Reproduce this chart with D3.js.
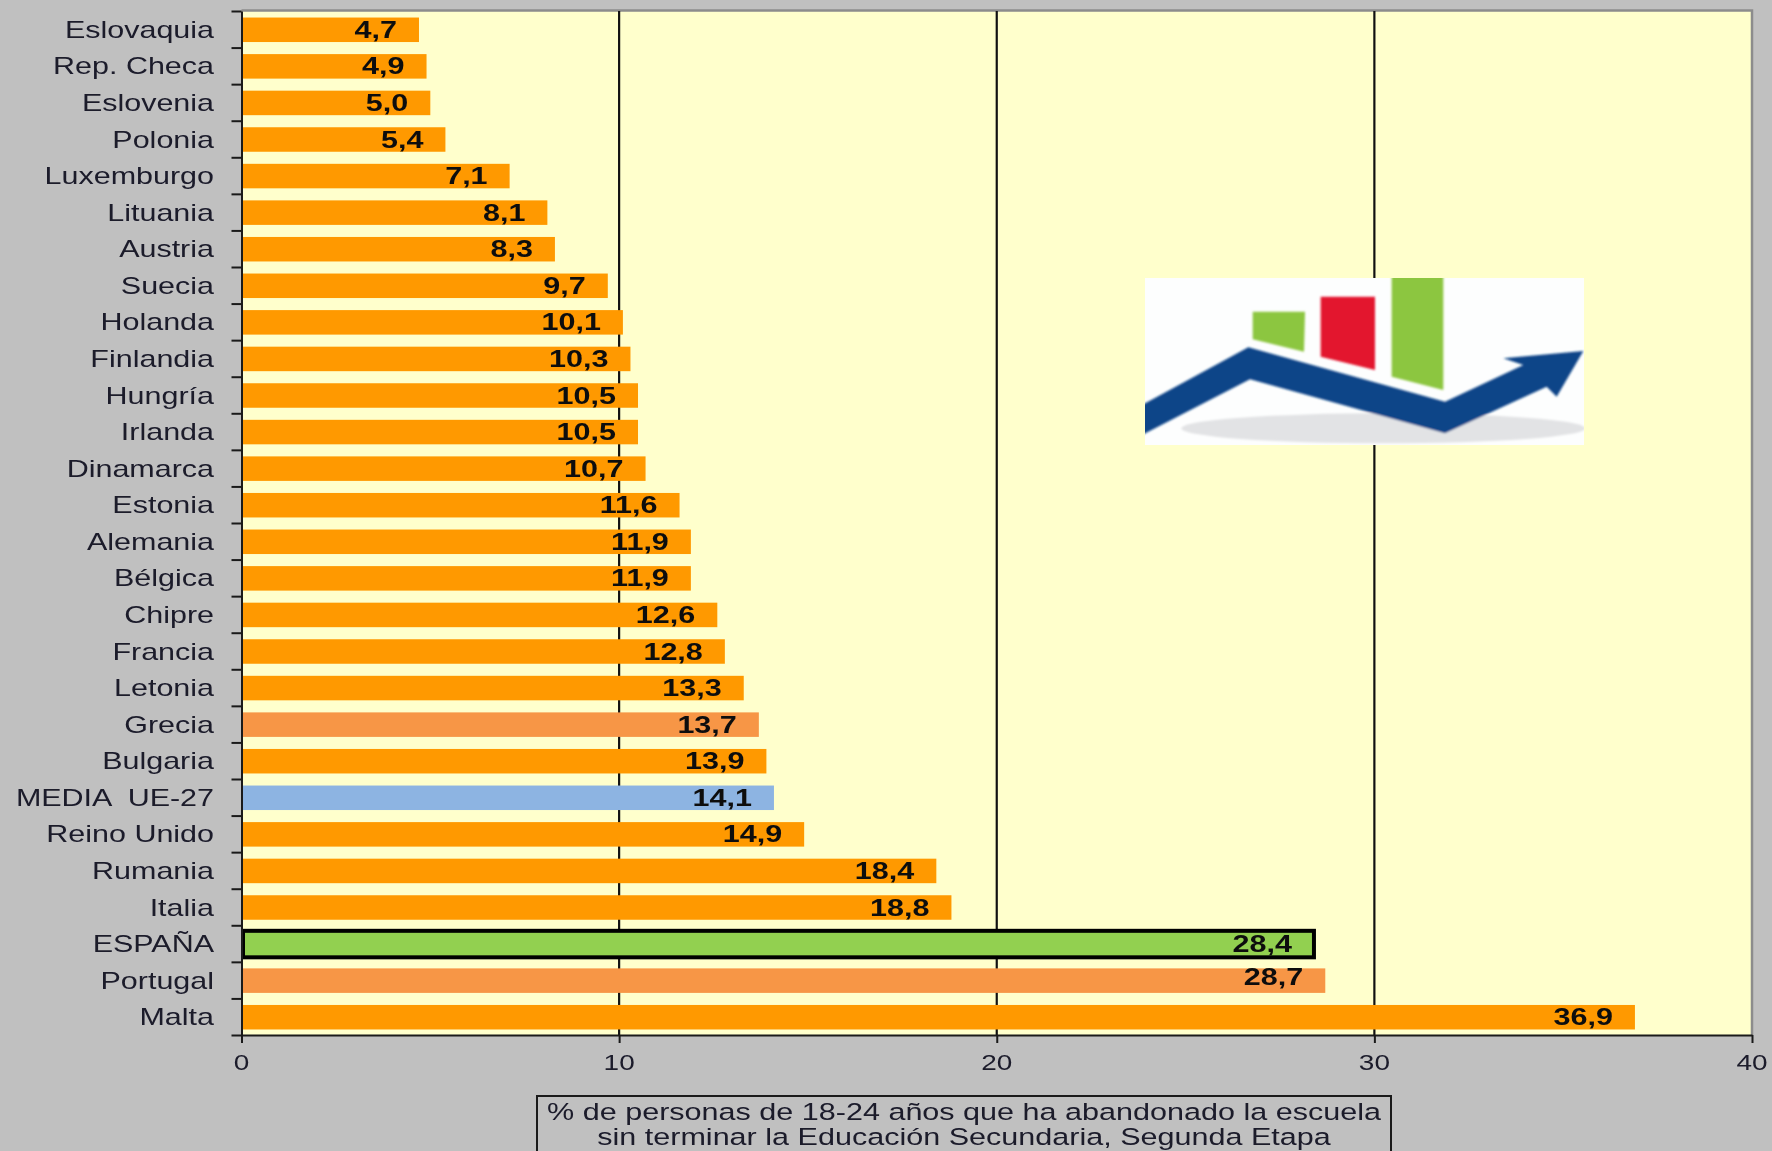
<!DOCTYPE html>
<html lang="es"><head><meta charset="utf-8">
<script src="https://cdn.jsdelivr.net/npm/d3@7"></script>
<style>
html,body{margin:0;padding:0;background:#c0c0c0;overflow:hidden}
svg{display:block}
text{font-family:"Liberation Sans",Arial,sans-serif;fill:#1a1a2a}
</style></head><body>
<svg id="c" width="1772" height="1151"></svg>
<script>
const categories=["Eslovaquia","Rep. Checa","Eslovenia","Polonia","Luxemburgo","Lituania","Austria","Suecia","Holanda","Finlandia","Hungría","Irlanda","Dinamarca","Estonia","Alemania","Bélgica","Chipre","Francia","Letonia","Grecia","Bulgaria","MEDIA  UE-27","Reino Unido","Rumania","Italia","ESPAÑA","Portugal","Malta"];
const values=[4.7,4.9,5.0,5.4,7.1,8.1,8.3,9.7,10.1,10.3,10.5,10.5,10.7,11.6,11.9,11.9,12.6,12.8,13.3,13.7,13.9,14.1,14.9,18.4,18.8,28.4,28.7,36.9];
const xTicks=[0,10,20,30,40];
const titleLines=["% de personas de 18-24 años que ha abandonado la escuela","sin terminar la Educación Secundaria, Segunda Etapa"];
const lightOrange=["Grecia","Portugal"], blueCats=["MEDIA  UE-27"], greenCats=["ESPAÑA"];
const color=c=>lightOrange.includes(c)?"#f79646":blueCats.includes(c)?"#8db4e2":greenCats.includes(c)?"#92d050":"#ff9900";

const M={l:241.5,r:1752,t:11,b:1035};
const svg=d3.select("#c");
const defs=svg.append("defs");
defs.append("filter").attr("id","soft").attr("x","-5%").attr("y","-20%").attr("width","110%").attr("height","140%")
  .append("feGaussianBlur").attr("stdDeviation",0.45);
defs.append("filter").attr("id","softLogo").attr("x","-2%").attr("y","-5%").attr("width","104%").attr("height","110%")
  .append("feGaussianBlur").attr("stdDeviation",0.8);
const x=d3.scaleLinear().domain([0,40]).range([M.l,M.r]);
const y=d3.scaleBand().domain(categories).range([M.t,M.b]).paddingInner(0.33).paddingOuter(0.165);
const yEdge=d3.scaleLinear().domain([0,categories.length]).range([M.t,M.b]);
const stretched=(px,py,sx)=>`translate(${px},${py}) scale(${sx},1)`;

// plot area
svg.append("rect").attr("x",M.l).attr("y",M.t).attr("width",M.r-M.l).attr("height",M.b-M.t).attr("fill","#ffffcc");
svg.append("path").attr("d",`M${M.l},${M.t-0.5}H${M.r}V${M.b}`).attr("fill","none").attr("stroke","#8c8c8c").attr("stroke-width",2.5);

// gridlines
svg.append("g").selectAll("line").data(xTicks.slice(1,-1)).join("line")
  .attr("x1",d=>x(d)).attr("x2",d=>x(d)).attr("y1",M.t).attr("y2",M.b)
  .attr("stroke","#111").attr("stroke-width",2.2);

// bars
svg.append("g").selectAll("rect").data(categories).join("rect")
  .attr("x",x(0)).attr("y",c=>y(c)+0.5).attr("height",y.bandwidth())
  .attr("width",(c,i)=>x(values[i])-x(0)).attr("fill",color);
greenCats.forEach(c=>{const i=categories.indexOf(c);
  svg.append("rect").attr("x",x(0)+1.5).attr("y",y(c)-0.5).attr("width",x(values[i])-x(0)-1.5)
    .attr("height",y.bandwidth()+2).attr("fill","none").attr("stroke","#000").attr("stroke-width",4);});

// axes
const gx=svg.append("g").attr("transform",`translate(0,${M.b})`)
  .call(d3.axisBottom(x).tickValues(xTicks).tickSize(8).tickSizeOuter(0).tickFormat(""));
const gy=svg.append("g").attr("transform",`translate(${M.l},0)`)
  .call(d3.axisLeft(yEdge).tickValues(d3.range(categories.length+1)).tickSize(10).tickSizeOuter(0).tickFormat(""));
[gx,gy].forEach(g=>{g.selectAll("path,line").attr("stroke","#1a1a1a").attr("stroke-width",2);});

const txt=svg.append("g").attr("filter","url(#soft)");
// category labels
txt.selectAll(".cat").data(categories).join("text").attr("class","cat")
  .attr("text-anchor","end").attr("font-size",24).style("white-space","pre")
  .attr("transform",c=>stretched(214,y(c)+y.bandwidth()/2+8.5,1.27)).text(c=>c);
// value labels
const fmt=v=>v.toFixed(1).replace(".",",");
txt.selectAll(".val").data(categories).join("text").attr("class","val")
  .attr("text-anchor","end").attr("font-size",23.5).attr("font-weight","bold").style("fill","#111")
  .attr("transform",(c,i)=>stretched(x(values[i])-22,y(c)+y.bandwidth()/2+8.5-(c==="Portugal"?4:0),1.3))
  .text((c,i)=>fmt(values[i]));
// x tick labels
txt.selectAll(".xt").data(xTicks).join("text").attr("class","xt")
  .attr("text-anchor","middle").attr("font-size",21.5)
  .attr("transform",d=>stretched(x(d),1070,1.3)).text(d=>d);

// title box
svg.append("rect").attr("x",537).attr("y",1096).attr("width",854).attr("height",70)
  .attr("fill","none").attr("stroke","#1a1a1a").attr("stroke-width",2);
txt.selectAll(".ttl").data(titleLines).join("text").attr("class","ttl")
  .attr("text-anchor","middle").attr("font-size",23.5)
  .attr("transform",(d,i)=>stretched(964,1120+i*25,1.3)).text(d=>d);

// logo
const L=(px,py)=>[1100+px/3,250+py/3];
const logo=svg.append("g");
const poly=(pts,fill)=>inner.append("polygon").attr("points",pts.map(p=>L(p[0],p[1]).join(",")).join(" ")).attr("fill",fill);
const [lx,ly]=L(135,84),[rx,ry]=L(1452,585);
defs.append("clipPath").attr("id","lc").append("rect").attr("x",lx).attr("y",ly).attr("width",rx-lx).attr("height",ry-ly);
logo.attr("clip-path","url(#lc)");
logo.append("rect").attr("x",lx).attr("y",ly).attr("width",rx-lx).attr("height",ry-ly).attr("fill","#fdfefe");
const inner=logo.append("g").attr("filter","url(#softLogo)");
const [ex,ey]=L(850,535);
inner.append("ellipse").attr("cx",ex).attr("cy",ey).attr("rx",202).attr("ry",15).attr("fill","#e2e3e5");
poly([[458,185],[615,185],[612,305],[458,268]],"#8cc63f");
poly([[662,140],[825,140],[825,360],[662,320]],"#e3172d");
poly([[875,70],[1030,70],[1030,420],[875,380]],"#8cc63f");
poly([[120,468],[445,292],[1035,455],[1270,345],[1210,325],[1450,303],[1370,440],[1340,410],[1035,550],[450,388],[120,558]],"#0f4488");
</script>
</body></html>
